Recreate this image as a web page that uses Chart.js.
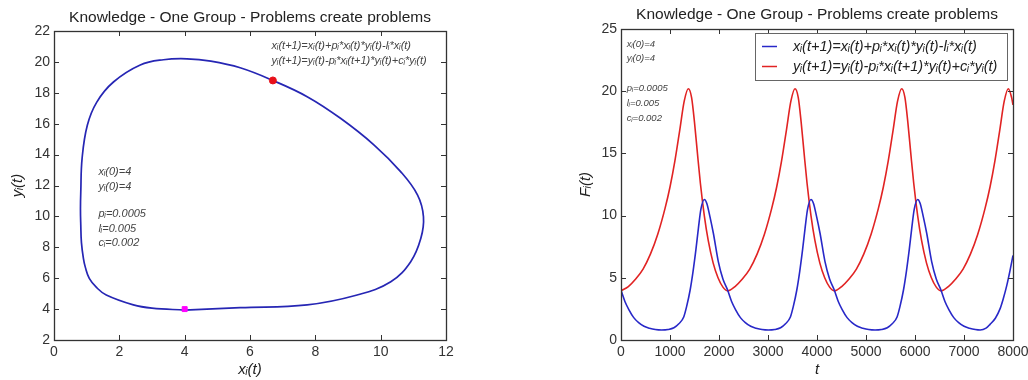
<!DOCTYPE html>
<html>
<head>
<meta charset="utf-8">
<script src="https://cdn.jsdelivr.net/npm/chart.js@4.4.0/dist/chart.umd.min.js"></script>
<style>
html, body { margin:0; padding:0; background:#fff; overflow:hidden; width:1028px; height:380px; }
#left { position:absolute; left:0; top:0; }
#right { position:absolute; left:575px; top:0; }
</style>
</head>
<body>
<canvas id="left" width="500" height="380"></canvas>
<canvas id="right" width="484" height="380"></canvas>
<script>
// phase plane x_i(t) vs y_i(t) (clockwise from the start point)
var phaseX = [4.0, 3.0, 2.43, 1.6, 1.3, 1.08, 0.96, 0.9, 0.84, 0.82, 0.81, 0.82, 0.86, 1.02, 1.31, 1.82, 2.64, 3.35, 4.07, 4.8, 5.7, 6.7, 7.75, 8.77, 9.8, 10.61, 11.13, 11.31, 11.23, 10.92, 10.31, 9.28, 7.75, 5.7, 4.0];
var phaseY = [3.94, 4.06, 4.27, 4.91, 5.4, 5.99, 6.7, 7.29, 8.3, 9.44, 10.5, 11.6, 13.76, 15.9, 17.4, 18.7, 19.8, 20.14, 20.2, 20.05, 19.62, 18.8, 17.75, 16.35, 14.62, 12.9, 11.38, 9.98, 8.58, 7.07, 5.77, 4.91, 4.27, 4.09, 3.94];
var startXY = [4, 4];
var endXY = [6.7, 18.8];

// time series, right panel
var tRed = [0, 150, 300, 450, 600, 750, 900, 1000, 1100, 1200, 1290, 1374, 1440, 1500, 1560, 1620, 1700, 1780, 1880, 1980, 2080,
  2177, 2327, 2477, 2627, 2777, 2927, 3077, 3177, 3277, 3377, 3467, 3551, 3617, 3677, 3737, 3797, 3877, 3957, 4057, 4157, 4257,
  4354, 4504, 4654, 4804, 4954, 5104, 5254, 5354, 5454, 5554, 5644, 5728, 5794, 5854, 5914, 5974, 6054, 6134, 6234, 6334, 6434,
  6531, 6681, 6831, 6981, 7131, 7281, 7431, 7531, 7631, 7731, 7821, 7905, 7971, 8000];
var redVals = [3.95, 4.3, 4.9, 5.7, 6.9, 8.5, 10.6, 12.3, 14.4, 16.9, 19.2, 20.2, 19.5, 17.5, 15.0, 12.6, 10.0, 8.0, 6.2, 5.0, 4.25,
  3.95, 4.3, 4.9, 5.7, 6.9, 8.5, 10.6, 12.3, 14.4, 16.9, 19.2, 20.2, 19.5, 17.5, 15.0, 12.6, 10.0, 8.0, 6.2, 5.0, 4.25,
  3.95, 4.3, 4.9, 5.7, 6.9, 8.5, 10.6, 12.3, 14.4, 16.9, 19.2, 20.2, 19.5, 17.5, 15.0, 12.6, 10.0, 8.0, 6.2, 5.0, 4.25,
  3.95, 4.3, 4.9, 5.7, 6.9, 8.5, 10.6, 12.3, 14.4, 16.9, 19.2, 20.2, 19.5, 18.9];

var tBlue = [0, 80, 160, 260, 360, 470, 580, 700, 830, 960, 1080, 1180, 1280, 1340, 1410, 1470, 1530, 1580, 1630, 1700, 1750, 1816, 1884, 1986, 2080,
  2177, 2257, 2337, 2437, 2537, 2647, 2757, 2877, 3007, 3137, 3257, 3357, 3457, 3517, 3587, 3647, 3707, 3757, 3807, 3877, 3927, 3993, 4061, 4163, 4257,
  4354, 4434, 4514, 4614, 4714, 4824, 4934, 5054, 5184, 5314, 5434, 5534, 5634, 5694, 5764, 5824, 5884, 5934, 5984, 6054, 6104, 6170, 6238, 6340, 6434,
  6531, 6611, 6691, 6791, 6891, 7001, 7111, 7231, 7330, 7450, 7531, 7640, 7735, 7800, 7871, 7940, 8000];
var blueVals = [4.0, 3.1, 2.45, 1.8, 1.4, 1.1, 0.95, 0.84, 0.8, 0.84, 0.98, 1.3, 1.85, 2.7, 4.0, 5.5, 7.3, 9.0, 10.5, 11.3, 11.0, 9.9, 8.6, 6.3, 4.9,
  4.0, 3.1, 2.45, 1.8, 1.4, 1.1, 0.95, 0.84, 0.8, 0.84, 0.98, 1.3, 1.85, 2.7, 4.0, 5.5, 7.3, 9.0, 10.5, 11.3, 11.0, 9.9, 8.6, 6.3, 4.9,
  4.0, 3.1, 2.45, 1.8, 1.4, 1.1, 0.95, 0.84, 0.8, 0.84, 0.98, 1.3, 1.85, 2.7, 4.0, 5.5, 7.3, 9.0, 10.5, 11.3, 11.0, 9.9, 8.6, 6.3, 4.9,
  4.0, 3.1, 2.45, 1.8, 1.4, 1.1, 0.95, 0.84, 0.8, 0.95, 1.26, 1.75, 2.5, 3.3, 4.35, 5.6, 6.8];

var eqX = 'xᵢ(t+1)=xᵢ(t)+pᵢ*xᵢ(t)*yᵢ(t)-lᵢ*xᵢ(t)';
var eqY = 'yᵢ(t+1)=yᵢ(t)-pᵢ*xᵢ(t+1)*yᵢ(t)+cᵢ*yᵢ(t)';
var params = ['xᵢ(0)=4', 'yᵢ(0)=4', 'pᵢ=0.0005', 'lᵢ=0.005', 'cᵢ=0.002'];
var chartTitle = 'Knowledge - One Group - Problems create problems';

var FONT = '"Liberation Sans", Arial, sans-serif';
var BLUE = 'rgb(40,40,200)';
var NAVY = 'rgb(38,38,180)';
var RED = 'rgb(225,35,35)';

function pts(xs, ys) {
  return xs.map(function(x, i) { return {x: x, y: ys[i]}; });
}

// matlab style box with inward ticks on all four sides
var frame = {
  id: 'frame',
  afterDatasetsDraw: function(chart) {
    var ctx = chart.ctx, a = chart.chartArea, sx = chart.scales.x, sy = chart.scales.y;
    ctx.save();
    ctx.strokeStyle = '#333';
    ctx.lineWidth = 1;
    ctx.beginPath();
    sx.ticks.forEach(function(t) {
      var p = Math.round(sx.getPixelForValue(t.value)) + 0.5;
      ctx.moveTo(p, a.bottom); ctx.lineTo(p, a.bottom - 5);
      ctx.moveTo(p, a.top); ctx.lineTo(p, a.top + 5);
    });
    sy.ticks.forEach(function(t) {
      var p = Math.round(sy.getPixelForValue(t.value)) + 0.5;
      ctx.moveTo(a.left, p); ctx.lineTo(a.left + 5, p);
      ctx.moveTo(a.right, p); ctx.lineTo(a.right - 5, p);
    });
    ctx.stroke();
    ctx.lineWidth = 1.3;
    ctx.strokeRect(Math.round(a.left) + 0.5, Math.round(a.top) + 0.5, Math.round(a.right - a.left), Math.round(a.bottom - a.top));
    ctx.restore();
  }
};

// small text notes placed in data coordinates
var notes = {
  id: 'notes',
  afterDraw: function(chart, args, opts) {
    var ctx = chart.ctx, sx = chart.scales.x, sy = chart.scales.y;
    ctx.save();
    ctx.fillStyle = '#444';
    ctx.font = 'italic ' + opts.size + 'px ' + FONT;
    ctx.textBaseline = 'middle';
    ctx.textAlign = 'left';
    (opts.items || []).forEach(function(n) {
      ctx.fillText(n.text, sx.getPixelForValue(n.x), sy.getPixelForValue(n.y));
    });
    ctx.restore();
  }
};

// legend box drawn inside the plot, top right
var boxLegend = {
  id: 'boxLegend',
  afterDraw: function(chart, args, opts) {
    if (!opts.show) return;
    var ctx = chart.ctx, a = chart.chartArea;
    var x1 = a.right - 6, x0 = x1 - 252, y0 = a.top + 4, h = 47;
    ctx.save();
    ctx.fillStyle = '#fff';
    ctx.fillRect(x0, y0, x1 - x0, h);
    ctx.strokeStyle = '#666';
    ctx.lineWidth = 1;
    ctx.strokeRect(Math.round(x0) + 0.5, Math.round(y0) + 0.5, Math.round(x1 - x0), h);
    ctx.font = 'italic 14.5px ' + FONT;
    ctx.textBaseline = 'middle';
    chart.data.datasets.forEach(function(ds, i) {
      var y = y0 + 13.5 + i * 20;
      ctx.strokeStyle = ds.borderColor;
      ctx.lineWidth = 1.5;
      ctx.beginPath(); ctx.moveTo(x0 + 7, y); ctx.lineTo(x0 + 22, y); ctx.stroke();
      ctx.fillStyle = '#222';
      ctx.fillText(ds.label, x0 + 38, y);
    });
    ctx.restore();
  }
};

// side is the empty margin on each side of the plot, so the title centres over it
function makeScales(xMin, xMax, xStep, yMin, yMax, yStep, xTitle, yTitle, side, yTitlePad) {
  var tickFont = {family: FONT, size: 14};
  var titleFont = {family: FONT, size: 15, style: 'italic'};
  var plain = function(v) { return String(v); };
  return {
    x: {
      type: 'linear', min: xMin, max: xMax,
      ticks: {stepSize: xStep, color: '#333', font: tickFont, padding: 4, maxRotation: 0, callback: plain},
      grid: {display: false, drawTicks: false}, border: {display: false},
      title: {display: true, text: xTitle, color: '#222', font: titleFont, padding: {top: 0, bottom: 1}},
      afterFit: function(s) { s.width = s.width; s.height = 40; }
    },
    y: {
      type: 'linear', min: yMin, max: yMax,
      ticks: {stepSize: yStep, color: '#333', font: tickFont, padding: 4, callback: plain},
      grid: {display: false, drawTicks: false}, border: {display: false},
      title: {display: true, text: yTitle, color: '#222', font: titleFont, padding: {top: yTitlePad, bottom: 0}},
      afterFit: function(s) { s.width = side; }
    },
    spacer: {
      type: 'linear', position: 'right', display: true,
      ticks: {display: false}, grid: {display: false, drawTicks: false}, border: {display: false},
      afterFit: function(s) { s.width = side; }
    }
  };
}

function titleOpts(topPad, bottomPad) {
  return {display: true, text: chartTitle, color: '#222', font: {family: FONT, size: 15.5, weight: 'normal'}, padding: {top: topPad, bottom: bottomPad}};
}

function DrawPhase(canvas) {
  var loop = pts(phaseX, phaseY);
  var options = {
    responsive: false,
    animation: false,
    layout: {padding: 0},
    scales: makeScales(0, 12, 2, 2, 22, 2, 'xᵢ(t)', 'yᵢ(t)', 54, 9),
    plugins: {
      legend: {display: false},
      tooltip: {enabled: false},
      title: titleOpts(8, 4.4),
      notes: {size: 11, items: [
        {x: 6.66, y: 21.05, text: eqX},
        {x: 6.66, y: 20.06, text: eqY},
        {x: 1.36, y: 12.87, text: params[0]},
        {x: 1.36, y: 11.9, text: params[1]},
        {x: 1.36, y: 10.16, text: params[2]},
        {x: 1.36, y: 9.19, text: params[3]},
        {x: 1.36, y: 8.28, text: params[4]}
      ]},
      boxLegend: {show: false}
    }
  };
  new Chart(canvas.getContext('2d'), {
    type: 'scatter',
    data: {datasets: [
      {label: 'start', data: [{x: startXY[0], y: startXY[1]}], pointStyle: 'rect', pointRadius: 3.5,
        backgroundColor: '#ff00ff', borderColor: '#ff00ff', order: 0},
      {label: 'end', data: [{x: endXY[0], y: endXY[1]}], pointStyle: 'circle', pointRadius: 3.5,
        backgroundColor: '#e8101a', borderColor: '#e8101a', order: 0},
      {label: 'orbit', data: loop, showLine: true, tension: 0.4, borderColor: NAVY, borderWidth: 1.7,
        pointRadius: 0, order: 1}
    ]},
    options: options,
    plugins: [frame, notes, boxLegend]
  });
}

function DrawSeries(canvas) {
  var options = {
    responsive: false,
    animation: false,
    layout: {padding: 0},
    scales: makeScales(0, 8000, 1000, 0, 25, 5, 't', 'Fᵢ(t)', 46, 1.6),
    plugins: {
      legend: {display: false},
      tooltip: {enabled: false},
      title: titleOpts(5.7, 4.7),
      notes: {size: 9.5, items: [
        {x: 116, y: 23.77, text: params[0]},
        {x: 116, y: 22.64, text: params[1]},
        {x: 116, y: 20.22, text: params[2]},
        {x: 116, y: 19.0, text: params[3]},
        {x: 116, y: 17.8, text: params[4]}
      ]},
      boxLegend: {show: true}
    }
  };
  new Chart(canvas.getContext('2d'), {
    type: 'scatter',
    data: {datasets: [
      {label: eqX, data: pts(tBlue, blueVals), showLine: true, cubicInterpolationMode: 'monotone',
        borderColor: BLUE, borderWidth: 1.6, pointRadius: 0},
      {label: eqY, data: pts(tRed, redVals), showLine: true, cubicInterpolationMode: 'monotone',
        borderColor: RED, borderWidth: 1.6, pointRadius: 0}
    ]},
    options: options,
    plugins: [frame, notes, boxLegend]
  });
}

DrawPhase(document.getElementById('left'));
DrawSeries(document.getElementById('right'));
</script>
</body>
</html>
